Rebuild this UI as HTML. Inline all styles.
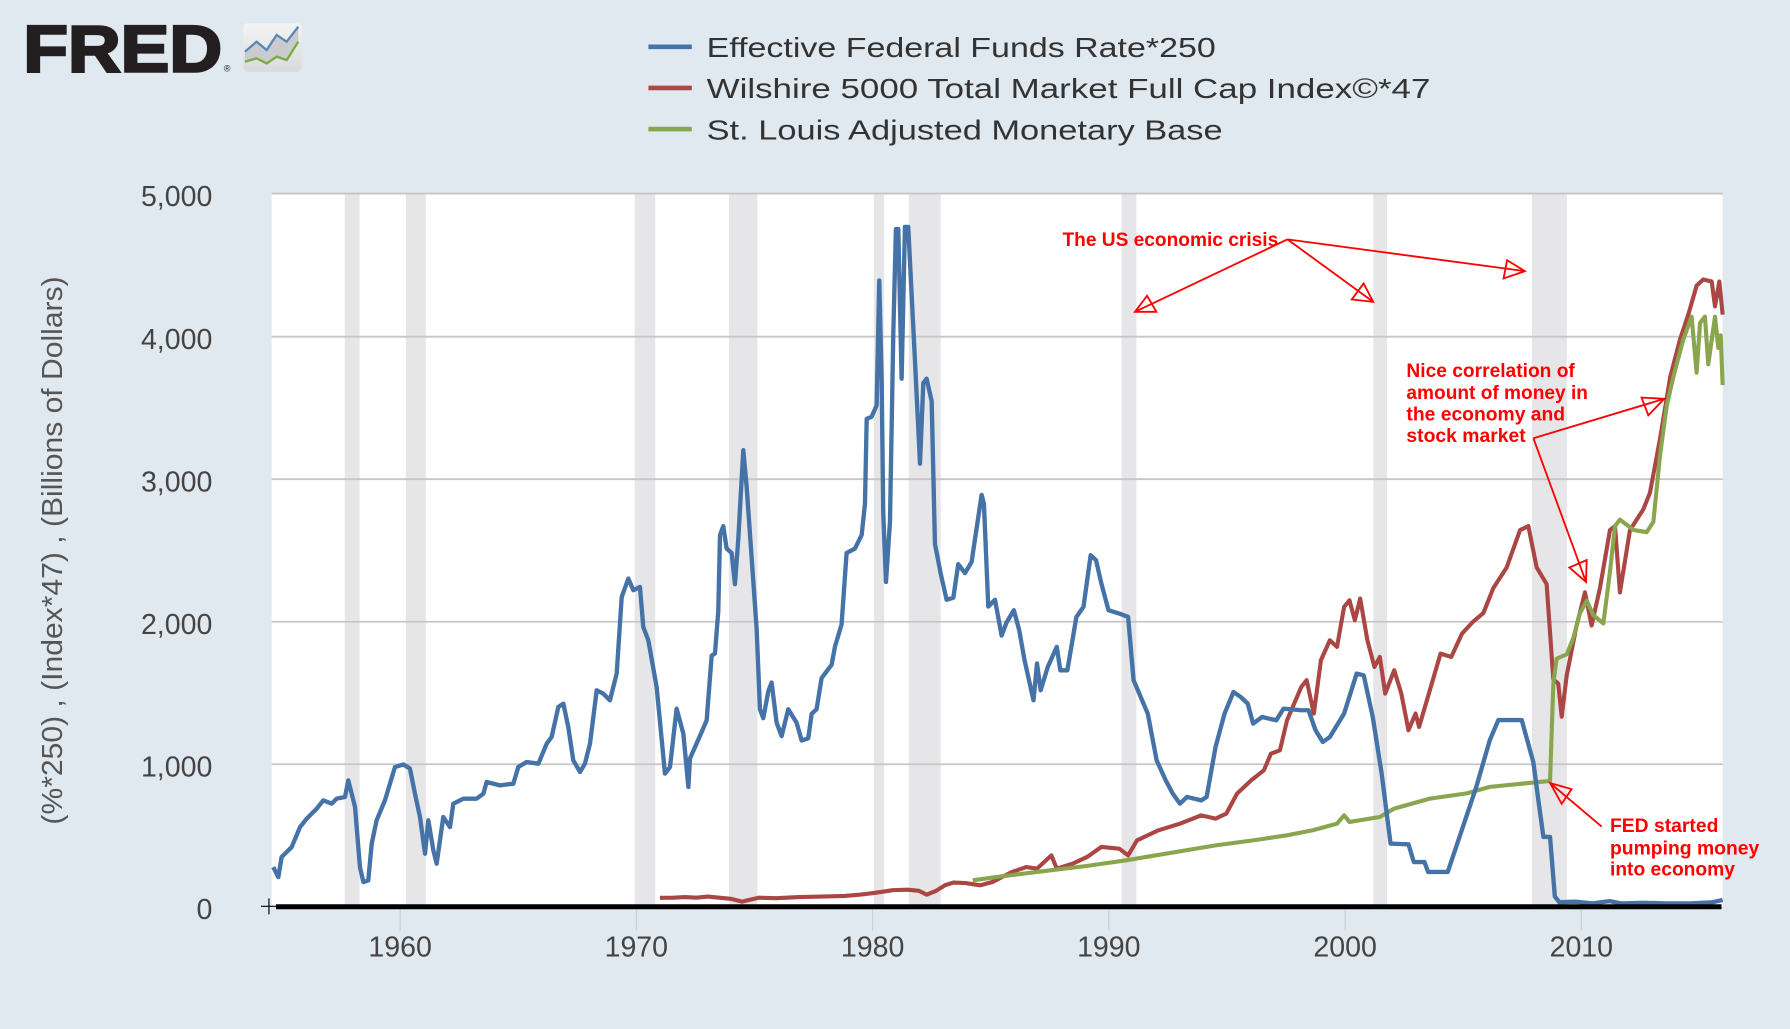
<!DOCTYPE html>
<html>
<head>
<meta charset="utf-8">
<style>
html,body{margin:0;padding:0;background:#e1e9f0;}
body{width:1790px;height:1029px;overflow:hidden;}
svg{display:block;}
text{font-family:"Liberation Sans",Arial,sans-serif;}
</style>
</head>
<body>
<svg width="1790" height="1029" viewBox="0 0 1568 901" preserveAspectRatio="none" xmlns="http://www.w3.org/2000/svg">
<defs>
<linearGradient id="ig" x1="0" y1="0" x2="0" y2="1">
<stop offset="0" stop-color="#f4f4f4"/>
<stop offset="1" stop-color="#d9dadc"/>
</linearGradient>
</defs>
<rect x="0" y="0" width="1568" height="901" fill="#e1e9f0"/>

<!-- FRED logo -->
<text x="20.5" y="62.5" font-size="58" font-weight="bold" fill="#231f20" stroke="#231f20" stroke-width="2.2" textLength="174" lengthAdjust="spacingAndGlyphs">FRED</text>
<text x="196" y="62.5" font-size="8" fill="#231f20">®</text>
<rect x="213.2" y="20.4" width="51" height="42.4" rx="4" fill="url(#ig)"/>
<polygon points="214.6,45.2 224.8,36.5 233.6,43.8 242.3,30.6 251.1,36.5 261.3,23.4 261.3,36.5 251.1,52.6 242.3,49.6 233.6,55.5 224.8,51.1 214.6,54" fill="#c9cbcf"/>
<polyline points="214.6,45.2 224.8,36.5 233.6,43.8 242.3,30.6 251.1,36.5 261.3,23.4" fill="none" stroke="#5b86b8" stroke-width="2"/>
<polyline points="214.6,54 224.8,51.1 233.6,55.5 242.3,49.6 251.1,52.6 261.3,36.5" fill="none" stroke="#7aab3c" stroke-width="2"/>

<!-- Legend -->
<line x1="568" y1="41" x2="606" y2="41" stroke="#4572a7" stroke-width="4"/>
<line x1="568" y1="77" x2="606" y2="77" stroke="#aa4643" stroke-width="4"/>
<line x1="568" y1="113" x2="606" y2="113" stroke="#89a54e" stroke-width="4"/>
<text x="619" y="50" font-size="24" fill="#333" textLength="446" lengthAdjust="spacingAndGlyphs">Effective Federal Funds Rate*250</text>
<text x="619" y="86" font-size="24" fill="#333" textLength="634" lengthAdjust="spacingAndGlyphs">Wilshire 5000 Total Market Full Cap Index©*47</text>
<text x="619" y="122" font-size="24" fill="#333" textLength="452" lengthAdjust="spacingAndGlyphs">St. Louis Adjusted Monetary Base</text>

<!-- Plot area -->
<rect x="238" y="169" width="1271" height="625" fill="#ffffff"/>

<!-- Recession bars -->
<g fill="#e6e6e8">
<rect x="302" y="169" width="13" height="625"/>
<rect x="355.5" y="169" width="17.5" height="625"/>
<rect x="556" y="169" width="18" height="625"/>
<rect x="638.5" y="169" width="25" height="625"/>
<rect x="765.5" y="169" width="9" height="625"/>
<rect x="796" y="169" width="28" height="625"/>
<rect x="982.5" y="169" width="13" height="625"/>
<rect x="1203" y="169" width="12" height="625"/>
<rect x="1342" y="169" width="30.5" height="625"/>
</g>

<!-- Gridlines -->
<g stroke="#c6c6c6" stroke-width="1.6">
<line x1="238" y1="169.5" x2="1509" y2="169.5"/>
<line x1="238" y1="294.8" x2="1509" y2="294.8"/>
<line x1="238" y1="419.6" x2="1509" y2="419.6"/>
<line x1="238" y1="544.4" x2="1509" y2="544.4"/>
<line x1="238" y1="669.2" x2="1509" y2="669.2"/>
</g>

<!-- X ticks -->
<g stroke="#c9ced3" stroke-width="1">
<line x1="350.5" y1="795" x2="350.5" y2="815"/>
<line x1="557.4" y1="795" x2="557.4" y2="815"/>
<line x1="764.4" y1="795" x2="764.4" y2="815"/>
<line x1="971.3" y1="795" x2="971.3" y2="815"/>
<line x1="1178.3" y1="795" x2="1178.3" y2="815"/>
<line x1="1385.2" y1="795" x2="1385.2" y2="815"/>
</g>

<!-- Y tick labels -->
<g font-size="25" fill="#444" text-anchor="end">
<text x="186" y="180.6">5,000</text>
<text x="186" y="305.4">4,000</text>
<text x="186" y="430.2">3,000</text>
<text x="186" y="555">2,000</text>
<text x="186" y="679.8">1,000</text>
<text x="186" y="804.6">0</text>
</g>

<!-- X tick labels -->
<g font-size="25" fill="#444" text-anchor="middle">
<text x="350.5" y="837.4">1960</text>
<text x="557.4" y="837.4">1970</text>
<text x="764.4" y="837.4">1980</text>
<text x="971.3" y="837.4">1990</text>
<text x="1178.3" y="837.4">2000</text>
<text x="1385.2" y="837.4">2010</text>
</g>

<!-- Y axis title -->
<text transform="translate(54.5,482) rotate(-90)" x="0" y="0" font-size="25" fill="#555" text-anchor="middle" textLength="480" lengthAdjust="spacingAndGlyphs">(%*250) , (Index*47) , (Billions of Dollars)</text>

<!-- Red series -->
<polyline fill="none" stroke="#aa4643" stroke-width="3.6" stroke-linejoin="round" points="578.1,786.1 590,786 600,785.5 610,786 620,785 630,786 640,787 650,789.5 656,788 665,786 680,786.5 700,785.5 720,785 740,784.5 753,783.4 765,782 782.5,779.4 795,779 805,780 811.7,783.4 820,780 828,775 835.1,772.8 845.9,773.2 858.4,775.2 869.3,772.3 886.5,763.5 899,759.2 908.4,760.6 921,749 925.7,760.6 939.7,756.2 952.2,750.4 964.8,741.6 980.4,743.1 988.2,749 996,735.8 1014.8,727 1033.6,721.2 1052.3,713.9 1064.8,716.8 1074.2,712.4 1083.6,694.9 1096.1,683.2 1107.1,674.5 1113.3,659.9 1121.2,657 1127.4,630.7 1139.9,601.5 1144.6,595.6 1150.9,624.8 1157.1,578.1 1164.9,560.6 1171.2,566.4 1177.4,531.4 1182.1,525.6 1186.8,543.1 1191.5,524.1 1197.8,560.6 1204,584 1208.7,575.2 1213.4,607.3 1221.3,586.9 1227.5,607.3 1233.8,639.4 1240,624.8 1243.1,636.5 1252.5,604.4 1261.9,572.3 1271.3,575.2 1280.7,554.8 1290.6,544.1 1299.4,536.8 1308.1,515 1319.8,496.9 1331.5,464.2 1338.8,460.6 1346.1,496.9 1354.8,511.4 1360.7,594.9 1365,598.5 1368,627.5 1372.4,591.3 1381.1,547.7 1388.4,518.7 1394.2,547.7 1401.5,515 1410.3,464.2 1414.7,460.6 1419,518.7 1427.8,464.2 1439.5,446 1445.3,431.6 1454.1,384.4 1463.1,330 1471.6,297.3 1478.9,275.5 1486.2,250.1 1492,244.7 1499.4,246.5 1502.3,268.3 1506.1,246.5 1509,275.5"/>

<!-- Green series -->
<polyline fill="none" stroke="#89a54e" stroke-width="3.6" stroke-linejoin="round" points="852.1,770.8 880,767 908.4,763.5 950,758.5 986.6,753.3 1030,746 1064.8,740.2 1100,735.5 1127.4,731.4 1150,727 1171.2,721.2 1177.4,713.9 1182.1,719.7 1208.7,715.4 1221.3,708 1252.5,699.3 1284.8,694.7 1305,689 1330,686.5 1357.8,683.8 1360.7,598.5 1363.6,576.7 1372.4,573 1378.2,558.6 1384,536.8 1390,526 1395.7,538.6 1404.5,545.9 1410.3,500.5 1414.7,460.6 1419,455 1430.8,464 1442.4,466 1448.3,457 1454.1,399 1460,355.4 1465.8,330 1474.5,297.3 1481.8,277.3 1486.2,326.3 1489.2,282.8 1493.5,277.3 1496.4,319 1502.3,277.3 1505.2,304.6 1507.3,293.7 1509,337.2"/>

<!-- Blue series -->
<polyline fill="none" stroke="#4572a7" stroke-width="3.8" stroke-linejoin="round" points="239.4,759.2 243.8,768 246.7,750.4 255.5,741.7 262.8,724.2 268.6,716.9 277.4,708.1 283.2,700.8 290.5,703.7 294.9,699.3 302.2,697.9 305.1,683.3 311,706.6 315.3,759.2 318.3,772.3 322.6,770.9 325.6,738.8 329.9,718.3 337.2,700.8 341.6,686.2 346,671.6 353.3,669.3 359.1,673 363.5,695 367.9,715.4 372.3,747.5 375.2,718.3 379.6,744.6 382.5,756.3 388.3,715.4 394.2,724.2 397.1,703.7 405.9,699.3 417.5,699.3 423.4,695 426.3,684.7 438,687.7 449.7,686.2 454,671.6 461.3,667.2 471.6,668.7 478.9,651.2 483.2,645.3 489.1,619 493.5,616.1 497.8,636.6 502.2,665.8 508.1,676 512.4,668.7 516.8,651.2 522.7,604.4 528.5,607.4 534.3,613.2 540.2,589.8 544.6,522.7 550.4,506.6 554.8,516.8 560.6,513.9 563.5,549 567.9,560.6 575.2,601.5 582.5,677.4 586.9,671.6 592.7,620.5 598.6,642.4 603,689.1 604.4,664.1 613.1,644.5 619,630.8 623.4,574.1 626.3,572.2 629.2,535 630.7,468.5 633.6,460.7 636.5,480.3 640.9,484.2 643.8,511.5 646.7,472.4 651.1,394.2 654,425.5 658.4,488.1 662.8,550.7 665.7,621 668.6,628.9 673,605.4 675.9,597.6 680.3,632.8 684.7,644.5 690.5,621 697.8,632.8 702.2,648.4 708,646.5 711,625 715.3,621 719.7,593.7 728.5,582 731.4,566.3 737.2,546.7 741.6,484.2 748.9,480.3 754.8,468.5 757.7,441.1 759.2,366.8 763.5,364.9 767.9,355.1 770.2,245.6 772.3,331.6 773.7,449 776.1,509.6 779.6,456.8 782.5,292.5 784.8,200.6 786.9,200.6 789.8,331.6 792.7,198.7 795.6,198.7 801.5,316 805.9,406 808.8,335.5 811.7,331.6 816.1,351.2 819,476.4 824,502 829.2,525.2 835.1,523.3 839.4,494 845.3,501.8 851.1,492 854,472.4 859.9,433.3 861.9,441.1 865.7,531.1 871.6,525.2 877.4,556.5 881.8,544.8 888.1,534.3 892.8,551.8 897.5,578.1 905.3,613.2 908.4,581 911.6,604.4 917.8,584 925.7,566.4 928.8,586.9 935,586.9 942.9,540.2 949.1,531.4 955.4,486.1 960.1,490.5 964.8,511 971,534.3 980.4,537.2 988.2,540.2 993,595.6 999.2,610.2 1005.4,624.8 1013.2,665.7 1021.1,683.2 1027.3,694.9 1033.6,703.7 1039.8,697.8 1052.3,700.8 1057,697.8 1064.8,654 1072.7,624.8 1080.5,605.9 1086.7,610.2 1093,616.1 1097.7,633.6 1105.5,627.8 1118,630.7 1124.3,620.5 1139.9,621.9 1146.2,621.9 1152.4,639.4 1158.7,649.7 1164.9,645.3 1177.4,624.8 1188.4,589.8 1194.6,591.3 1202.5,627.8 1210.3,677.4 1218.1,738.7 1233.8,739.3 1238.5,754.8 1247.8,754.8 1251,763.5 1268.2,763.5 1277.5,735.8 1293.2,689 1305,648.2 1312.5,630.5 1333,630.5 1343.2,667.5 1347.5,700.1 1352,732.8 1357.8,732.8 1362,785 1366,790 1380,789.5 1395,791 1410,789 1420,791 1440,790.5 1460,791 1480,791 1500,790 1509,788"/>

<!-- X axis line -->
<line x1="241.8" y1="794" x2="1508" y2="794" stroke="#000" stroke-width="4.4"/>
<line x1="228.6" y1="793.6" x2="242.6" y2="793.6" stroke="#000" stroke-width="1"/>
<line x1="235.6" y1="786.6" x2="235.6" y2="800.6" stroke="#000" stroke-width="1"/>

<!-- Annotations -->
<g fill="#ff0000" font-weight="bold" font-size="17">
<text x="930.7" y="215.2" textLength="189" lengthAdjust="spacingAndGlyphs">The US economic crisis</text>
<text x="1232" y="330" textLength="147.5" lengthAdjust="spacingAndGlyphs">Nice correlation of</text>
<text x="1232" y="349.2" textLength="159" lengthAdjust="spacingAndGlyphs">amount of money in</text>
<text x="1232" y="368.1" textLength="139" lengthAdjust="spacingAndGlyphs">the economy and</text>
<text x="1232" y="386.9" textLength="104.5" lengthAdjust="spacingAndGlyphs">stock market</text>
<text x="1410.3" y="728.4" textLength="95" lengthAdjust="spacingAndGlyphs">FED started</text>
<text x="1410.3" y="748" textLength="130.8" lengthAdjust="spacingAndGlyphs">pumping money</text>
<text x="1410.3" y="766.5" textLength="109.5" lengthAdjust="spacingAndGlyphs">into economy</text>
</g>
<g fill="none" stroke="#ff0000" stroke-width="1.6" stroke-linejoin="miter">
<line x1="1127.8" y1="209.6" x2="994.2" y2="273"/>
<polygon points="994.2,273 1013,273 1004.8,259"/>
<line x1="1127.8" y1="209.6" x2="1202.9" y2="264.3"/>
<polygon points="1202.9,264.3 1184.1,262.2 1194.5,248.2"/>
<line x1="1127.8" y1="209.6" x2="1335.8" y2="237.4"/>
<polygon points="1335.8,237.4 1320.2,227.8 1317.1,243.8"/>
<line x1="1343.2" y1="383.7" x2="1457.9" y2="349.2"/>
<polygon points="1457.9,349.2 1438,348.1 1443.9,363.7"/>
<line x1="1343.2" y1="383.7" x2="1389.3" y2="509.6"/>
<polygon points="1389.3,509.6 1374.7,496.9 1389.9,490.4"/>
<line x1="1403" y1="723.7" x2="1357.8" y2="685.6"/>
<polygon points="1357.8,685.6 1376.7,691 1368,703.8"/>
</g>
</svg>
</body>
</html>
